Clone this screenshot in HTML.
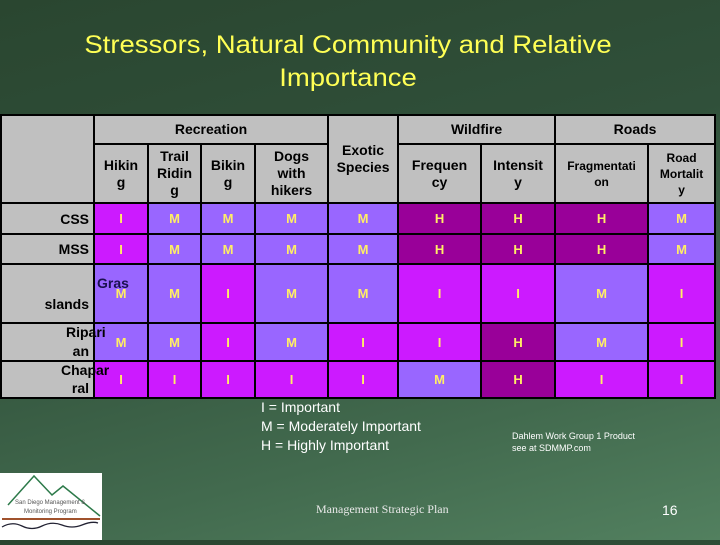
<!DOCTYPE html>
<html><head><meta charset="utf-8">
<style>
html,body{margin:0;padding:0}
body{width:720px;height:540px;position:relative;overflow:hidden;font-family:"Liberation Sans",Arial,sans-serif;
background:linear-gradient(165deg,#2a4630 0%,#30503a 40%,#426a4e 75%,#52805f 100%);}
.title{position:absolute;left:0;width:696px;top:29px;text-align:center;color:#ffff55;font-family:"Liberation Sans Narrow","Liberation Sans",sans-serif;font-size:25px;line-height:33px;transform:scaleX(1.1);transform-origin:348px 0}
table{position:absolute;left:0;top:114px;border-collapse:collapse;table-layout:fixed;width:714px;}
td{border:2px solid #000;padding:0;text-align:center;vertical-align:middle;overflow:visible}
.h{background:#c0c0c0;color:#000;font-size:14px;line-height:17px;font-weight:bold}
.hs{font-size:12px;font-weight:bold;line-height:16px}
.lab{background:#c0c0c0;color:#000;font-size:14px;font-weight:bold;text-align:right;padding-right:4px;position:relative}
.I{background:#cc1aff}.M{background:#9966ff}.H{background:#990099}
.v{color:#ffee66;font-weight:bold;font-size:13px}
.ov{position:absolute;z-index:2;font-size:14px;font-weight:bold;white-space:nowrap;text-align:left}
.leg{position:absolute;left:261px;top:398px;color:#fff;font-size:14px;line-height:19px}
.small{position:absolute;left:512px;top:430px;color:#fff;font-size:9px;line-height:12px}
.foot{position:absolute;left:316px;top:502px;color:#e8e8e8;font-family:"Liberation Serif",serif;font-size:12px}
.page{position:absolute;left:662px;top:502px;color:#fff;font-size:14px}
.logo{position:absolute;left:0;top:473px;width:102px;height:67px;background:#fff}
</style></head><body>
<div class="title">Stressors, Natural Community and Relative<br>Importance</div>
<table>
<colgroup><col style="width:93px"><col style="width:54px"><col style="width:53px"><col style="width:54px"><col style="width:73px"><col style="width:70px"><col style="width:83px"><col style="width:74px"><col style="width:93px"><col style="width:67px"></colgroup>
<tr style="height:29px">
<td class="h" rowspan="2"></td>
<td class="h" colspan="4">Recreation</td>
<td class="h" rowspan="2" style="vertical-align:top;padding-top:26px">Exotic<br>Species</td>
<td class="h" colspan="2">Wildfire</td>
<td class="h" colspan="2">Roads</td>
</tr>
<tr style="height:59px">
<td class="h">Hikin<br>g</td>
<td class="h">Trail<br>Ridin<br>g</td>
<td class="h">Bikin<br>g</td>
<td class="h">Dogs<br>with<br>hikers</td>
<td class="h">Frequen<br>cy</td>
<td class="h">Intensit<br>y</td>
<td class="h hs">Fragmentati<br>on</td>
<td class="h hs">Road<br>Mortalit<br>y</td>
</tr>
<tr style="height:31px"><td class="lab">CSS</td>
<td class="I v">I</td><td class="M v">M</td><td class="M v">M</td><td class="M v">M</td><td class="M v">M</td><td class="H v">H</td><td class="H v">H</td><td class="H v">H</td><td class="M v">M</td></tr>
<tr style="height:30px"><td class="lab">MSS</td>
<td class="I v">I</td><td class="M v">M</td><td class="M v">M</td><td class="M v">M</td><td class="M v">M</td><td class="H v">H</td><td class="H v">H</td><td class="H v">H</td><td class="M v">M</td></tr>
<tr style="height:59px"><td class="lab" style="vertical-align:bottom;padding-bottom:10px">slands<span class="ov" style="left:95px;top:10px;color:#1a1050">Gras</span></td>
<td class="M v">M</td><td class="M v">M</td><td class="I v">I</td><td class="M v">M</td><td class="M v">M</td><td class="I v">I</td><td class="I v">I</td><td class="M v">M</td><td class="I v">I</td></tr>
<tr style="height:38px"><td class="lab" style="vertical-align:bottom;padding-bottom:1px">an<span class="ov" style="left:64px;top:0px;color:#000">Ripari</span></td>
<td class="M v">M</td><td class="M v">M</td><td class="I v">I</td><td class="M v">M</td><td class="I v">I</td><td class="I v">I</td><td class="H v">H</td><td class="M v">M</td><td class="I v">I</td></tr>
<tr style="height:37px"><td class="lab" style="vertical-align:bottom;padding-bottom:1px">ral<span class="ov" style="left:59px;top:0px;color:#000">Chapar</span></td>
<td class="I v">I</td><td class="I v">I</td><td class="I v">I</td><td class="I v">I</td><td class="I v">I</td><td class="M v">M</td><td class="H v">H</td><td class="I v">I</td><td class="I v">I</td></tr>
</table>
<div class="leg">I = Important<br>M = Moderately Important<br>H = Highly Important</div>
<div class="small">Dahlem Work Group 1 Product<br>see at SDMMP.com</div>
<div class="logo">
<svg width="102" height="67" viewBox="0 0 102 67">
<polyline points="8,32 34,3 52,22 63,13 100,43" fill="none" stroke="#2d7a4a" stroke-width="1.5"/>
<text x="15" y="31" font-size="6" fill="#555" font-family="Liberation Sans">San Diego Management &amp;</text>
<text x="24" y="40" font-size="6" fill="#555" font-family="Liberation Sans">Monitoring Program</text>
<line x1="2" y1="46" x2="100" y2="46" stroke="#a0522d" stroke-width="2"/>
<path d="M2,54 Q12,48 22,53 T42,53 T62,52 T82,52 T98,50" fill="none" stroke="#223" stroke-width="1.3"/>
</svg></div>
<div class="foot">Management Strategic Plan</div>
<div class="page">16</div>
</body></html>
